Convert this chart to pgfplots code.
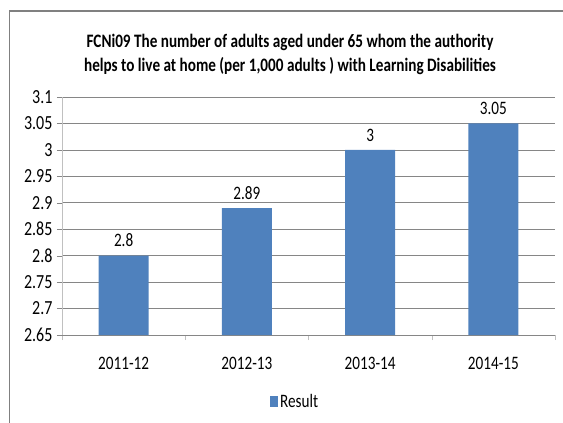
\documentclass[border=0pt]{standalone}
\usepackage{fontspec}
\setmainfont[FakeStretch=0.8]{Carlito}
\usepackage{pgfplots}
\pgfplotsset{compat=1.18}
\definecolor{barblue}{HTML}{4F81BD}
\definecolor{gridgray}{HTML}{868686}
\definecolor{axisgray}{HTML}{C0C0C0}
\definecolor{framegray}{HTML}{808080}
\begin{document}
\begin{tikzpicture}
\useasboundingbox (0,0) rectangle (563pt,-423pt);
\draw[framegray, line width=1.3pt] (9.5pt,-424pt) -- (9.5pt,-11pt) -- (564pt,-11pt);
\node[align=center, font=\fontsize{19}{24}\selectfont\bfseries] at (290pt,-54pt)
  {FCNi09 The number of adults aged under 65 whom the authority\\helps to live at home (per 1,000 adults ) with Learning Disabilities};
\begin{axis}[
    at={(62pt,-335pt)}, anchor=south west,
    scale only axis, width=493pt, height=238pt,
    font=\fontsize{19}{22}\selectfont,
    ymin=2.65, ymax=3.1,
    ytick={2.65,2.7,...,3.1},
    yticklabel style={/pgf/number format/fixed, /pgf/number format/precision=2,
        font=\fontsize{20}{22}\selectfont, xshift=-1pt},
    /pgf/number format/assume math mode=true,
    xmin=-0.5, xmax=3.5,
    xtick={-0.5,0.5,1.5,2.5,3.5},
    xticklabels={},
    extra x ticks={0,1,2,3},
    extra x tick labels={2011-12,2012-13,2013-14,2014-15},
    extra x tick style={major tick length=0pt},
    axis lines*=left,
    x axis line style={draw=gridgray, line width=0.8pt},
    y axis line style={draw=axisgray, line width=0.8pt},
    tick align=outside, major tick length=5pt,
    xtick style={draw=axisgray},
    ytick style={draw=gridgray},
    ymajorgrids, grid style={draw=gridgray, line width=0.7pt},
    xticklabel style={yshift=-19pt},
    legend style={at={(0.473,-0.2815)}, anchor=center, draw=none, fill=none,
        legend cell align=left},
    legend image code/.code={\fill[barblue] (0pt,-5.5pt) rectangle (8pt,5.5pt);},
]
\addplot[ybar, bar width=50pt, fill=barblue, draw=none,
    nodes near coords, nodes near coords style={yshift=5pt}]
    coordinates {(0,2.80) (1,2.89) (2,3.00) (3,3.05)};
\addlegendentry{Result}
\end{axis}
\end{tikzpicture}
\end{document}
